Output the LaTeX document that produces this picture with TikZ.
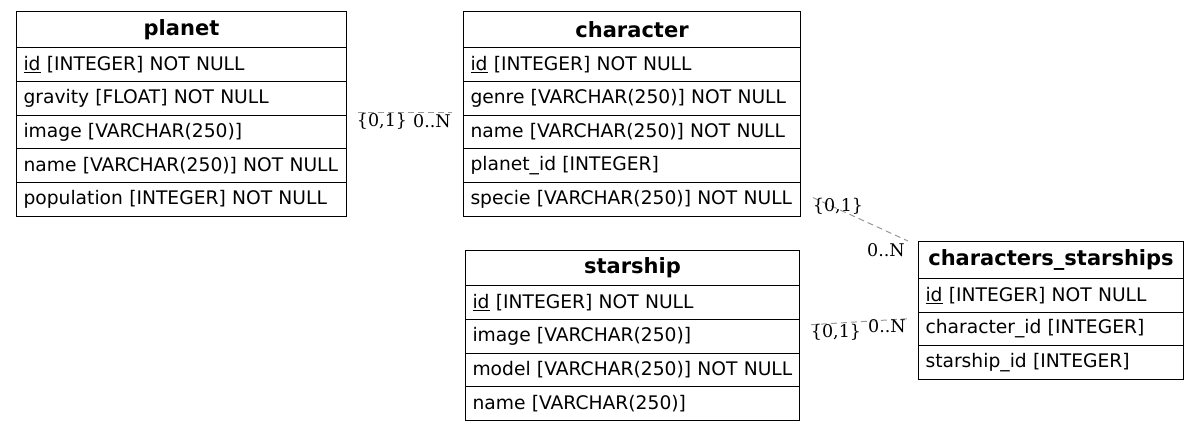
\documentclass[tikz,border=0pt]{standalone}
\usepackage{fontspec}
\setmainfont{DejaVu Sans}
\newfontfamily\cardfont{DejaVu Serif}
\usetikzlibrary{calc}

\tikzset{
  tblhead/.style={draw, line width=1pt, inner sep=0pt, anchor=north west,
    align=center, font=\fontsize{21}{24}\selectfont\bfseries},
  tblrow/.style={draw, line width=1pt, inner xsep=7pt, inner ysep=0pt,
    anchor=north west, align=left, font=\fontsize{18.7}{22}\selectfont},
  rel/.style={draw=gray!80, line width=1pt, dash pattern=on 6pt off 4pt},
  card/.style={inner sep=0pt, font=\cardfont\fontsize{17.5}{20}\selectfont}
}

% #1 name, #2 x, #3 y, #4 width, #5 header height, #6 row height, #7 title, #8 fields
\newcommand{\ertable}[8]{%
  \node[tblhead, minimum width=#4pt, minimum height=#5pt, text width=#4pt] (#1) at (#2,#3) {#7};
  \foreach \fld [count=\i] in {#8} {
    \node[tblrow, minimum width=#4pt, minimum height=#6pt, text width=#4pt-14pt]
      (#1-\i) at ({#2},{#3+#5+(\i-1)*#6}) {\raisebox{1.5pt}{\fld}};
  }
}

\begin{document}
\begin{tikzpicture}[x=1pt, y=-1pt]
\useasboundingbox (0,0) rectangle (1199,431);

\ertable{planet}{16}{11}{330}{36}{33.8}{planet}{%
  \underline{id} [INTEGER] NOT NULL,
  gravity [FLOAT] NOT NULL,
  image [VARCHAR(250)],
  name [VARCHAR(250)] NOT NULL,
  population [INTEGER] NOT NULL}

\ertable{character}{463}{11}{337}{36}{33.8}{character}{%
  \underline{id} [INTEGER] NOT NULL,
  genre [VARCHAR(250)] NOT NULL,
  name [VARCHAR(250)] NOT NULL,
  planet\_id [INTEGER],
  specie [VARCHAR(250)] NOT NULL}

\ertable{starship}{465}{250}{334}{35}{33.75}{starship}{%
  \underline{id} [INTEGER] NOT NULL,
  image [VARCHAR(250)],
  model [VARCHAR(250)] NOT NULL,
  name [VARCHAR(250)]}

\ertable{cs}{918}{241}{265}{37}{33.7}{characters\_starships}{%
  \underline{id} [INTEGER] NOT NULL,
  character\_id [INTEGER],
  starship\_id [INTEGER]}

% relationships
\draw[rel] ($(planet-2.south east)+(11,-3)$) -- ($(character-2.south west)+(-11,-3)$);
\draw[rel] ($(character-5.east)+(12,-2)$) -- ($(cs.north west)+(-10,0)$);
\draw[rel] ($(starship-2.north east)+(11,6)$) -- ($(cs-1.south west)+(-10,6)$);

% cardinalities
\node[card] (c1a) at (382,121) {\{0,1\}};
\node[card] (c1b) at (432,121) {0..N};
\node[card] (c2a) at (838,206) {\{0,1\}};
\node[card] (c2b) at (886,250) {0..N};
\node[card] (c3a) at (836,332) {\{0,1\}};
\node[card] (c3b) at (887,326) {0..N};
\end{tikzpicture}
\end{document}
